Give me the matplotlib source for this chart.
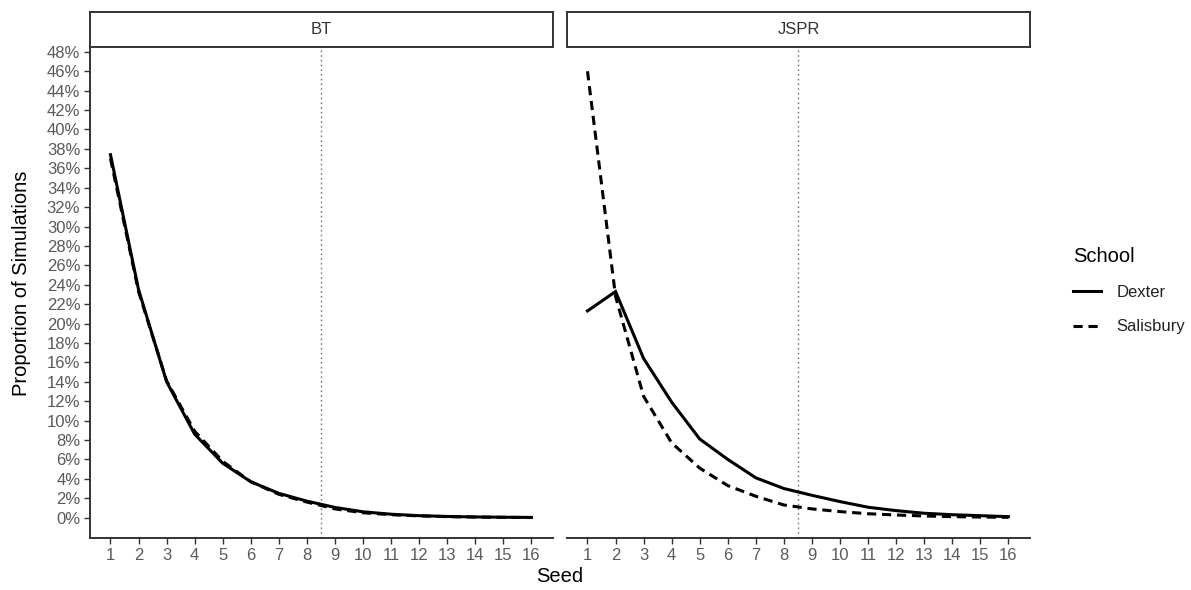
import matplotlib
matplotlib.use("Agg")
import matplotlib.pyplot as plt
import numpy as np

plt.rcParams["font.family"] = ["Liberation Sans", "DejaVu Sans"]

# ----------------- data ---------------------------------------------- #
seeds = list(range(1, 17))
panels = ["BT", "JSPR"]
schools = ["Dexter", "Salisbury"]

bt_dexter = [37.4, 23.5, 14.0, 8.6, 5.6, 3.7, 2.5, 1.7, 1.05, 0.6, 0.35, 0.2, 0.12, 0.07, 0.04, 0.02]
bt_salisbury = [37.0, 23.3, 14.1, 8.9, 5.8, 3.7, 2.4, 1.6, 0.9, 0.5, 0.3, 0.18, 0.1, 0.06, 0.03, 0.01]
jspr_dexter = [21.3, 23.3, 16.4, 11.9, 8.1, 6.0, 4.1, 3.0, 2.3, 1.65, 1.07, 0.72, 0.45, 0.3, 0.2, 0.1]
jspr_salisbury = [46.0, 22.8, 12.5, 7.7, 5.1, 3.3, 2.2, 1.3, 0.9, 0.62, 0.4, 0.27, 0.17, 0.1, 0.06, 0.03]

y_ticks = list(range(0, 50, 2))
cutoff = 8.5

# ----------------- plot config --------------------------------------- #
TICK = 12
TITLE = 14.5
GREY = "#5a5a5a"
LINE_W = 2.2
DASHES = (3.0, 1.9)

W, H = 1191, 590
fig = plt.figure(figsize=(W / 100, H / 100), dpi=100)


def fx(px):
    return px / W


def fy(py):
    return 1 - py / H


panel_left = [90, 567]
panel_w = 463
top, bottom = 47, 538
strip_top = 12

series = {
    "BT": [bt_dexter, bt_salisbury],
    "JSPR": [jspr_dexter, jspr_salisbury],
}

axes = []
for i, name in enumerate(panels):
    ax = fig.add_axes([fx(panel_left[i]), fy(bottom), fx(panel_w), fy(top) - fy(bottom)])
    axes.append(ax)
    dexter, salisbury = series[name]
    ax.axvline(cutoff, color="#777777", lw=1.0, ls=(0, (1.2, 2.2)), zorder=1)
    ax.plot(seeds, np.array(dexter) / 100, color="black", lw=LINE_W, label="Dexter",
            solid_joinstyle="miter", zorder=3)
    ax.plot(seeds, np.array(salisbury) / 100, color="black", lw=LINE_W, label="Salisbury",
            dashes=DASHES, zorder=3)

    ax.set_xlim(0.27, 16.77)
    ax.set_ylim(-0.021, 0.485)
    ax.set_xticks(seeds)
    ax.set_xticklabels([str(s) for s in seeds])
    ax.tick_params(axis="both", colors="#333333", labelcolor=GREY, labelsize=TICK,
                   length=4, width=1.0, pad=3)
    for s in ["top", "right"]:
        ax.spines[s].set_visible(False)
    ax.spines["bottom"].set_color("#333333")
    ax.spines["bottom"].set_linewidth(1.4)
    ax.spines["left"].set_color("#333333")
    ax.spines["left"].set_linewidth(1.4)

    if i == 0:
        ax.set_yticks(np.array(y_ticks) / 100)
        ax.set_yticklabels([f"{t}%" for t in y_ticks])
    else:
        ax.spines["left"].set_visible(False)
        ax.set_yticks([])

    # facet strip
    sax = fig.add_axes([fx(panel_left[i]), fy(top), fx(panel_w), fy(strip_top) - fy(top)])
    sax.set_xticks([])
    sax.set_yticks([])
    for s in sax.spines.values():
        s.set_linewidth(1.4)
        s.set_color("#333333")
    sax.text(0.5, 0.5, name, ha="center", va="center", fontsize=TICK, color="#333333",
             transform=sax.transAxes)

fig.text(fx(22), fy(283), "Proportion of Simulations", rotation=90, ha="center", va="center",
         fontsize=TITLE, color="black")
fig.text(fx(560), fy(577), "Seed", ha="center", va="center", fontsize=TITLE, color="black")

handles, labels = axes[1].get_legend_handles_labels()
leg = fig.legend(handles, labels, title="School", loc="upper left",
                 bbox_to_anchor=(fx(1058), fy(232)), frameon=False,
                 fontsize=TICK, title_fontsize=TITLE, handlelength=1.7,
                 handletextpad=0.9, labelspacing=1.15)
leg._legend_box.align = "left"
for t in leg.get_texts():
    t.set_color("#222222")

fig.savefig("out.png", dpi=100)
